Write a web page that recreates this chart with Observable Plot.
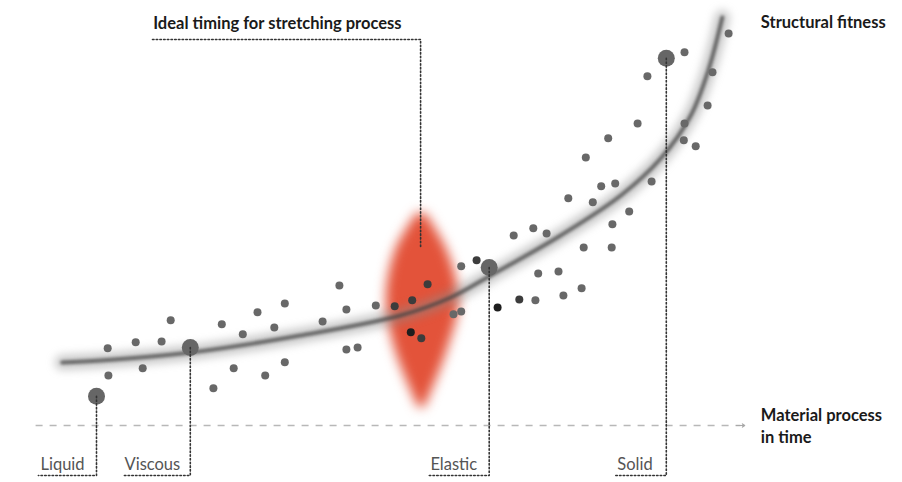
<!DOCTYPE html>
<html>
<head>
<meta charset="utf-8">
<script src="https://cdn.jsdelivr.net/npm/d3@7"></script>
<script src="https://cdn.jsdelivr.net/npm/@observablehq/plot@0.6"></script>
<style>
  html, body { margin: 0; padding: 0; background: #fff; }
  #chart { width: 902px; height: 482px; }
</style>
</head>
<body>
<div id="chart"></div>
<script>
// ---- Data (time 0..100, structural fitness 0..100) ----
const dotTime    = [9.6, 9.7, 13.6, 17.3, 18.6, 14.6, 24.7, 25.9, 28.9, 27.6, 31.0, 34.9, 33.4, 32.1, 34.9,
                    42.7, 43.7, 40.3, 47.9, 50.6, 53.1, 55.3, 52.9, 54.4, 43.7, 45.3, 59.0, 60.1, 60.1, 62.3,
                    65.3, 68.4, 70.7, 74.7, 77.3, 71.1, 74.0, 67.6, 70.4, 72.3, 77.6, 81.6, 81.7, 84.1, 75.4,
                    78.9, 80.1, 82.1, 87.3, 77.9, 81.1, 85.3, 92.0, 91.9, 93.6, 95.3, 96.0, 86.7, 92.0, 98.3];
const dotFitness = [19.3, 12.5, 20.8, 21.0, 26.3, 14.3, 9.3, 25.3, 22.8, 14.3, 28.3, 30.5, 24.5, 12.5, 15.8,
                    35.0, 29.0, 26.0, 30.0, 29.8, 31.3, 35.3, 23.3, 21.8, 19.0, 19.5, 27.8, 28.5, 39.8, 41.3,
                    29.5, 31.5, 31.3, 32.5, 34.3, 38.0, 38.5, 47.5, 49.3, 48.0, 44.5, 44.5, 50.3, 53.5, 56.8,
                    55.8, 59.8, 60.5, 61.0, 67.0, 71.8, 75.5, 75.5, 71.3, 69.8, 80.0, 88.3, 87.3, 93.3, 98.0];
const dotTone    = [1, 1, 1, 1, 1, 1, 1, 1, 1, 1, 1, 1, 1, 1, 1,
                    1, 1, 1, 1, 2, 2, 2, 3, 2, 1, 1, 1, 1, 1, 2,
                    3, 2, 1, 1, 1, 1, 1, 1, 1, 1, 1, 1, 1, 1, 1,
                    1, 1, 1, 1, 1, 1, 1, 1, 1, 1, 1, 1, 1, 1, 1];

const trendTime    = [3.1, 8.6, 21.4, 37.1, 51.4, 58.6, 64.3, 74.3, 82.9, 88.6, 92.9, 95.4, 97.4];
const trendFitness = [15.75, 16.25, 18.25, 22.5, 27.5, 32.0, 37.5, 47.5, 57.5, 66.75, 77.5, 88.75, 102.0];

const stageNames      = ["Liquid", "Viscous", "Elastic", "Solid"];
const stageTime       = [8.0, 21.4, 64.1, 89.4];
const stageFitness    = [7.3, 19.5, 39.5, 91.8];
const stageLabelTime  = [0.0, 12.0, 55.7, 82.4];
const stageLeaderEnd  = [-0.3, 11.7, 55.4, 82.0];
const labelFitness    = -9.75;
const leaderBottom    = -12.5;

const lensFitness = [53.0, 43.75, 31.25, 18.75, 4.5];
const lensLeft    = [53.8, 50.7, 49.4, 50.7, 54.0];
const lensRight   = [55.0, 58.1, 59.8, 58.1, 54.9];

const idealLabel = "Ideal timing for stretching process";
const idealLabelAt = [16.1, 100.4];
const idealLeader = {time: [16.0, 54.3, 54.3], fitness: [96.5, 96.5, 44.5]};

const yAxisLabel = "Structural fitness";
const xAxisLabel = ["Material process", "in time"];
const axisStart = -0.7, axisEnd = 100.6;

// ---- Build tables ----
const dots = dotTime.map((t, i) => ({t, f: dotFitness[i], tone: dotTone[i]}));
const trend = trendTime.map((t, i) => ({t, f: trendFitness[i]}));
const stages = stageNames.map((name, i) => ({name, t: stageTime[i], f: stageFitness[i], lt: stageLabelTime[i], le: stageLeaderEnd[i]}));
const lens = lensFitness.map((f, i) => ({f, x1: lensLeft[i], x2: lensRight[i]}));
const stageLeaders = stages.flatMap(s => [
  {t: s.t, f: s.f, id: s.name}, {t: s.t, f: leaderBottom, id: s.name}, {t: s.le, f: leaderBottom, id: s.name}
]);
const idealPath = idealLeader.time.map((t, i) => ({t, f: idealLeader.fitness[i]}));
const toneColor = d => d.tone === 3 ? "#1e1e1e" : d.tone === 2 ? "#3c3c3c" : "#686868";
const fs = 16.5;

// marks, with a blur amount for soft-focus (index order = SVG group order)
const layers = [
  [Plot.link([{a: axisStart, b: axisEnd - 0.6}], {x1: "a", x2: "b", y1: 0, y2: 0, stroke: "#b8b8b8", strokeWidth: 1.3, strokeDasharray: "7,7"}), 0],
  [Plot.arrow([{a: axisEnd - 1.2, b: axisEnd}], {x1: "a", x2: "b", y1: 0, y2: 0, stroke: "#a8a8a8", strokeWidth: 1.2, headLength: 7, headAngle: 70}), 0],
  [Plot.areaX(lens, {y: "f", x1: "x1", x2: "x2", fill: "#e24a2f", fillOpacity: 0.95, curve: "catmull-rom"}), 6],
  [Plot.line(trend, {x: "t", y: "f", stroke: "#8a8a8a", strokeWidth: 15, strokeOpacity: 0.45, curve: "catmull-rom"}), 4.5],
  [Plot.line(trend, {x: "t", y: "f", stroke: "#444", strokeWidth: 4, strokeOpacity: 0.75, curve: "catmull-rom"}), 1.5],
  [Plot.dot(dots, {x: "t", y: "f", r: 4, fill: toneColor}), 0.6],
  [Plot.dot(stages, {x: "t", y: "f", r: 8.5, fill: "#666"}), 0.7],
  [Plot.line(stageLeaders, {x: "t", y: "f", z: "id", stroke: "#333", strokeWidth: 1.6, strokeDasharray: "1.5,2.2"}), 0],
  [Plot.line(idealPath, {x: "t", y: "f", stroke: "#333", strokeWidth: 1.6, strokeDasharray: "1.5,2.2"}), 0],
  [Plot.text(stages, {x: "lt", y: labelFitness, text: "name", textAnchor: "start", fontSize: fs, fill: "#555"}), 0],
  [Plot.text([idealLabel], {x: idealLabelAt[0], y: idealLabelAt[1], text: d => d, textAnchor: "start", fontSize: fs, fontWeight: "bold", fill: "#1a1a1a"}), 0],
  [Plot.text([yAxisLabel], {x: 102.9, y: 100.75, text: d => d, textAnchor: "start", fontSize: fs, fontWeight: "bold", fill: "#1a1a1a"}), 0],
  [Plot.text([xAxisLabel.join("\n")], {x: 102.9, y: 0.25, text: d => d, textAnchor: "start", fontSize: fs, fontWeight: "bold", fill: "#1a1a1a", lineHeight: 1.35}), 0]
];

const chart = Plot.plot({
  width: 902,
  height: 482,
  marginLeft: 40,
  marginRight: 162,
  marginTop: 25,
  marginBottom: 57,
  x: {domain: [0, 100], axis: null},
  y: {domain: [0, 100], axis: null},
  style: {fontFamily: "Lato, 'Open Sans', sans-serif", background: "#fff", overflow: "visible"},
  marks: layers.map(l => l[0])
});

// soft-focus via CSS blur on each mark group
const groups = Array.from(chart.children).filter(el => el.tagName.toLowerCase() === "g");
if (groups.length === layers.length) {
  groups.forEach((g, i) => { if (layers[i][1] > 0) g.style.filter = `blur(${layers[i][1]}px)`; });
}

document.getElementById("chart").appendChild(chart);
</script>
</body>
</html>
